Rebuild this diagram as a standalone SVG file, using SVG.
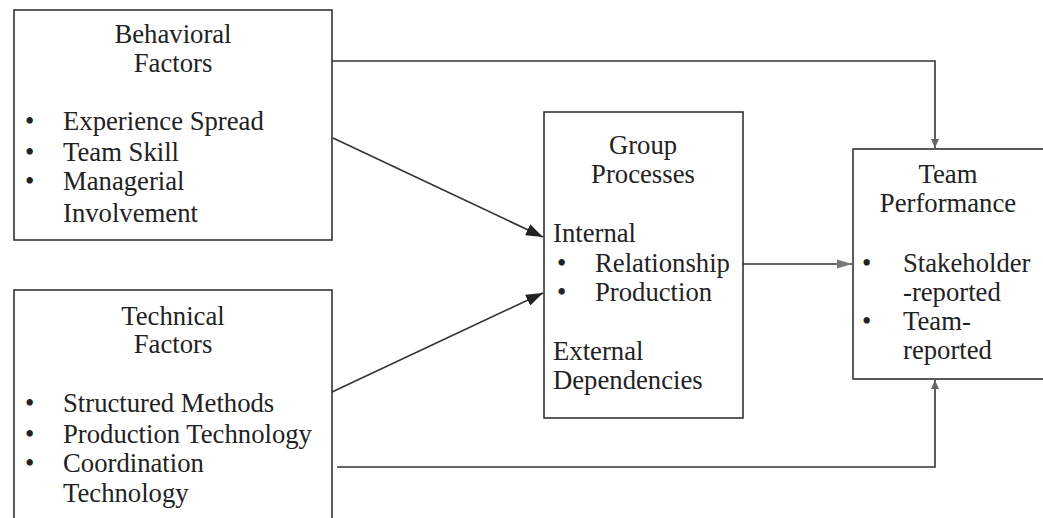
<svg xmlns="http://www.w3.org/2000/svg" width="1043" height="518" viewBox="0 0 1043 518">
  <style>
    .box { fill: #ffffff; stroke: #333333; stroke-width: 1.6; }
    .txt { font-family: "Liberation Serif", "Times New Roman", serif; font-size: 26.7px; fill: #222222; }
    .mid { text-anchor: middle; }
    .link { fill: none; stroke: #333333; stroke-width: 1.6; }
  </style>
  <defs>
    <marker id="arrow" markerUnits="userSpaceOnUse" markerWidth="18" markerHeight="12" refX="17" refY="6" orient="auto">
      <path d="M0,0 L17,6 L0,12 Z" fill="#222222"/>
    </marker>
    <marker id="arrowSoft" markerUnits="userSpaceOnUse" markerWidth="16" markerHeight="10" refX="15" refY="5" orient="auto">
      <path d="M0,0.5 L15,5 L0,9.5 Z" fill="#777777"/>
    </marker>
    <marker id="arrowSmall" markerUnits="userSpaceOnUse" markerWidth="10" markerHeight="8" refX="9" refY="4" orient="auto">
      <path d="M0,0 L9,4 L0,8 Z" fill="#666666"/>
    </marker>
  </defs>

  <rect width="1043" height="518" fill="#ffffff"/>

  <g id="connectors">
    <path class="link" d="M333,138 L543,237" marker-end="url(#arrow)"/>
    <path class="link" d="M332,392 L543,293" marker-end="url(#arrow)"/>
    <path class="link" d="M743,264 L852,264" marker-end="url(#arrowSoft)"/>
    <path class="link" d="M332,61 L935,61 L935,148" marker-end="url(#arrowSmall)"/>
    <path class="link" d="M337,467 L935,467 L935,380" marker-end="url(#arrowSmall)"/>
  </g>

  <g id="behavioral-factors">
    <rect class="box" x="14" y="10" width="318" height="230"/>
    <text class="txt mid" x="173" y="43">Behavioral</text>
    <text class="txt mid" x="173" y="72">Factors</text>
    <text class="txt" x="25" y="130">•</text>
    <text class="txt" x="63" y="130">Experience Spread</text>
    <text class="txt" x="25" y="161">•</text>
    <text class="txt" x="63" y="161">Team Skill</text>
    <text class="txt" x="25" y="190">•</text>
    <text class="txt" x="63" y="190">Managerial</text>
    <text class="txt" x="63" y="222">Involvement</text>
  </g>

  <g id="technical-factors">
    <rect class="box" x="14" y="290" width="318" height="240"/>
    <text class="txt mid" x="173" y="325">Technical</text>
    <text class="txt mid" x="173" y="353">Factors</text>
    <text class="txt" x="25" y="412">•</text>
    <text class="txt" x="63" y="412">Structured Methods</text>
    <text class="txt" x="25" y="443">•</text>
    <text class="txt" x="63" y="443">Production Technology</text>
    <text class="txt" x="25" y="472">•</text>
    <text class="txt" x="63" y="472">Coordination</text>
    <text class="txt" x="63" y="502">Technology</text>
  </g>

  <g id="group-processes">
    <rect class="box" x="544" y="112" width="199" height="306"/>
    <text class="txt mid" x="643" y="154">Group</text>
    <text class="txt mid" x="643" y="183">Processes</text>
    <text class="txt" x="553" y="242">Internal</text>
    <text class="txt" x="557" y="272">•</text>
    <text class="txt" x="595" y="272">Relationship</text>
    <text class="txt" x="557" y="301">•</text>
    <text class="txt" x="595" y="301">Production</text>
    <text class="txt" x="553" y="360">External</text>
    <text class="txt" x="553" y="389">Dependencies</text>
  </g>

  <g id="team-performance">
    <rect class="box" x="853" y="149" width="200" height="230"/>
    <text class="txt mid" x="948" y="183">Team</text>
    <text class="txt mid" x="948" y="212">Performance</text>
    <text class="txt" x="862" y="272">•</text>
    <text class="txt" x="903" y="272">Stakeholder</text>
    <text class="txt" x="903" y="301">-reported</text>
    <text class="txt" x="862" y="330">•</text>
    <text class="txt" x="903" y="330">Team-</text>
    <text class="txt" x="903" y="359">reported</text>
  </g>
</svg>
